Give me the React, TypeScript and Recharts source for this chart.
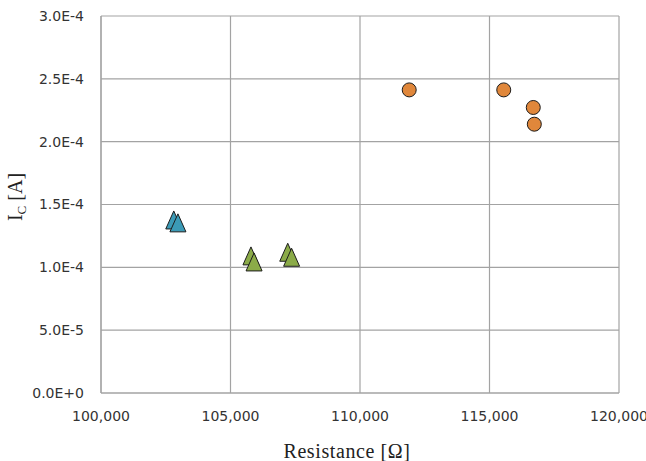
import React from "react";
import {
  CartesianGrid,
  Scatter,
  ScatterChart,
  XAxis,
  YAxis,
} from "recharts";

// Resistance (ohm) / collector current (A)
const blueX = [102810, 102970];
const blueY = [1.377e-4, 1.354e-4];

const greenX = [105790, 105910, 107210, 107360];
const greenY = [1.091e-4, 1.043e-4, 1.12e-4, 1.08e-4];

const orangeX = [111900, 115550, 116690, 116730];
const orangeY = [2.412e-4, 2.412e-4, 2.272e-4, 2.139e-4];

const xTicks = [100000, 105000, 110000, 115000, 120000];
const yTicks = [0, 0.00005, 0.0001, 0.00015, 0.0002, 0.00025, 0.0003];

const toPoints = (xs: number[], ys: number[]) =>
  xs.map((x, i) => ({ x, y: ys[i] }));

const GRID = "#a3a3a3";
const TICK_FONT = "'DejaVu Sans', sans-serif";
const LABEL_FONT = "'Liberation Serif', 'Times New Roman', serif";

function Triangle(props: any) {
  const { cx, cy, fill } = props;
  const pts = `${cx},${cy - 9} ${cx + 8},${cy + 9} ${cx - 8},${cy + 9}`;
  return <polygon points={pts} fill={fill} stroke="#1c1c1c" strokeWidth={1} />;
}

function Dot(props: any) {
  const { cx, cy, fill } = props;
  return <circle cx={cx} cy={cy} r={7} fill={fill} stroke="#1c1c1c" strokeWidth={1} />;
}

export default function App() {
  return (
    <div style={{ position: "absolute", left: 0, top: 0, background: "#fff" }}>
      <ScatterChart
        width={646}
        height={461}
        margin={{ top: 16, right: 27, bottom: 0, left: 0 }}
      >
        <CartesianGrid stroke={GRID} strokeWidth={1.2} />
        <XAxis
          type="number"
          dataKey="x"
          domain={[100000, 120000]}
          ticks={xTicks}
          height={68}
          tickLine={false}
          tickSize={6}
          tickMargin={12}
          axisLine={{ stroke: GRID, strokeWidth: 1.2 }}
          tick={{ fill: "#333", fontSize: 14, fontFamily: TICK_FONT }}
          tickFormatter={(v) => Number(v).toLocaleString("en-US")}
          label={{
            content: () => (
              <text
                x={347}
                y={458}
                textAnchor="middle"
                fontFamily={LABEL_FONT}
                fontSize={20}
                letterSpacing={0.6}
                fill="#222"
              >
                Resistance [Ω]
              </text>
            ),
          }}
        />
        <YAxis
          type="number"
          dataKey="y"
          domain={[0, 0.0003]}
          ticks={yTicks}
          width={101}
          tickLine={false}
          tickSize={6}
          tickMargin={11}
          axisLine={{ stroke: GRID, strokeWidth: 1.2 }}
          tick={{ fill: "#333", fontSize: 14, fontFamily: TICK_FONT }}
          tickFormatter={(v) => Number(v).toExponential(1).toUpperCase()}
          label={{
            content: () => (
              <text
                x={22}
                y={197}
                transform="rotate(-90 22 197)"
                textAnchor="middle"
                fontFamily={LABEL_FONT}
                fontSize={20}
                fill="#222"
              >
                I
                <tspan fontSize={13} dy={4}>
                  C
                </tspan>
                <tspan dy={-4}> [A]</tspan>
              </text>
            ),
          }}
        />
        <Scatter
          data={toPoints(blueX, blueY)}
          fill="#3b9ab6"
          shape={<Triangle />}
          isAnimationActive={false}
        />
        <Scatter
          data={toPoints(greenX, greenY)}
          fill="#8bab48"
          shape={<Triangle />}
          isAnimationActive={false}
        />
        <Scatter
          data={toPoints(orangeX, orangeY)}
          fill="#e0873b"
          shape={<Dot />}
          isAnimationActive={false}
        />
      </ScatterChart>
    </div>
  );
}
